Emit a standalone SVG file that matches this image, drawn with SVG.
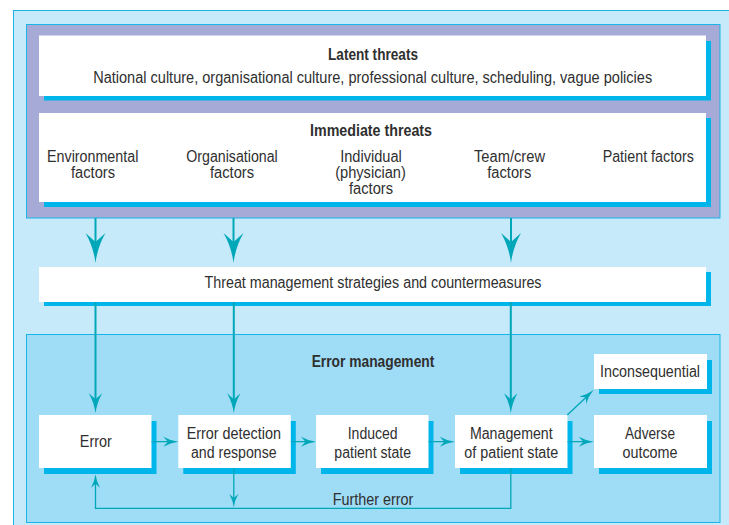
<svg xmlns="http://www.w3.org/2000/svg" width="729" height="525" viewBox="0 0 729 525">
  <defs>
    <style>
      text { font-family: "Liberation Sans", Arial, sans-serif; font-size: 16px; fill: #2f2f2f; text-anchor: middle; }
      .b { font-weight: bold; }
      .panel { stroke: #1ab4e6; stroke-width: 1; }
      .box { fill: #ffffff; }
      .shadow { fill: #00b5ea; }
      .conn { fill: none; stroke: #00a7b9; }
      .thick { stroke-width: 2; }
      .thin { stroke-width: 1.3; }
      .head { fill: #00a7b9; }
    </style>
    <!-- barbed arrowhead, tip at origin, pointing down (+y) -->
    <path id="head" d="M0,0 Q2,-16 10,-30 L0,-21 L-10,-30 Q-2,-16 0,0 Z"/>
  </defs>

  <!-- background panels -->
  <g id="frame">
    <rect x="13.5" y="10.5" width="730" height="530" fill="#c6eaf9" class="panel"/>
    <rect x="26.5" y="24.5" width="693.5" height="193.5" fill="#a5aad6" class="panel"/>
    <rect x="26.5" y="334.5" width="693.5" height="188" fill="#9fdcf6" class="panel"/>
  </g>

  <g id="latent-threats">
    <rect class="shadow" x="44" y="41" width="667" height="59.5"/>
    <rect class="box" x="39" y="35.5" width="667" height="60.5"/>
    <text class="b" x="373" y="59.5" font-size="15" textLength="90" lengthAdjust="spacingAndGlyphs">Latent threats</text>
    <text x="372.7" y="83.3" textLength="559" lengthAdjust="spacingAndGlyphs">National culture, organisational culture, professional culture, scheduling, vague policies</text>
  </g>

  <g id="immediate-threats">
    <rect class="shadow" x="44" y="118" width="667" height="89"/>
    <rect class="box" x="39" y="113" width="667" height="89"/>
    <text class="b" x="371" y="136" textLength="122" lengthAdjust="spacingAndGlyphs">Immediate threats</text>
    <text x="92.7" y="162" textLength="91.3" lengthAdjust="spacingAndGlyphs">Environmental</text>
    <text x="93" y="177.5" textLength="44" lengthAdjust="spacingAndGlyphs">factors</text>
    <text x="232" y="162" textLength="91.5" lengthAdjust="spacingAndGlyphs">Organisational</text>
    <text x="232" y="177.5" textLength="44" lengthAdjust="spacingAndGlyphs">factors</text>
    <text x="371" y="162" textLength="61.7" lengthAdjust="spacingAndGlyphs">Individual</text>
    <text x="370.5" y="178" textLength="70.7" lengthAdjust="spacingAndGlyphs">(physician)</text>
    <text x="371" y="194" textLength="44" lengthAdjust="spacingAndGlyphs">factors</text>
    <text x="509.5" y="162" textLength="71" lengthAdjust="spacingAndGlyphs">Team/crew</text>
    <text x="509.3" y="177.5" textLength="44" lengthAdjust="spacingAndGlyphs">factors</text>
    <text x="648.3" y="162" textLength="91.3" lengthAdjust="spacingAndGlyphs">Patient factors</text>
  </g>

  <g id="threat-management">
    <rect class="shadow" x="44" y="272" width="667" height="34"/>
    <rect class="box" x="39" y="267" width="667" height="35"/>
    <text x="373" y="288.3" textLength="337" lengthAdjust="spacingAndGlyphs">Threat management strategies and countermeasures</text>
  </g>

  <g id="error-management-title">
    <text class="b" x="373" y="366.7" textLength="122.7" lengthAdjust="spacingAndGlyphs">Error management</text>
  </g>

  <g id="error">
    <rect class="shadow" x="44" y="421" width="112.5" height="53"/>
    <rect class="box" x="39" y="415" width="112.5" height="53"/>
    <text x="95.8" y="447" textLength="32" lengthAdjust="spacingAndGlyphs">Error</text>
  </g>

  <g id="error-detection">
    <rect class="shadow" x="183.3" y="421" width="112.5" height="53"/>
    <rect class="box" x="178.3" y="415" width="112.5" height="53"/>
    <text x="233.8" y="439.3" textLength="94.3" lengthAdjust="spacingAndGlyphs">Error detection</text>
    <text x="233.8" y="458.3" textLength="85.7" lengthAdjust="spacingAndGlyphs">and response</text>
  </g>

  <g id="induced-state">
    <rect class="shadow" x="321" y="421" width="112.5" height="53"/>
    <rect class="box" x="316" y="415" width="112.5" height="53"/>
    <text x="372.7" y="438.5" textLength="50" lengthAdjust="spacingAndGlyphs">Induced</text>
    <text x="372.7" y="458.3" textLength="76.7" lengthAdjust="spacingAndGlyphs">patient state</text>
  </g>

  <g id="management-state">
    <rect class="shadow" x="460" y="421" width="112.5" height="53"/>
    <rect class="box" x="455" y="415" width="112.5" height="53"/>
    <text x="511.3" y="439.3" textLength="82.7" lengthAdjust="spacingAndGlyphs">Management</text>
    <text x="511.3" y="458.3" textLength="94" lengthAdjust="spacingAndGlyphs">of patient state</text>
  </g>

  <g id="inconsequential">
    <rect class="shadow" x="599" y="360" width="113" height="34"/>
    <rect class="box" x="594" y="354" width="113" height="35"/>
    <text x="650" y="377.3" textLength="100" lengthAdjust="spacingAndGlyphs">Inconsequential</text>
  </g>

  <g id="adverse-outcome">
    <rect class="shadow" x="599" y="421" width="113" height="53"/>
    <rect class="box" x="594" y="415" width="113" height="53"/>
    <text x="650" y="439" textLength="50" lengthAdjust="spacingAndGlyphs">Adverse</text>
    <text x="650" y="458" textLength="55" lengthAdjust="spacingAndGlyphs">outcome</text>
  </g>

  <g id="connectors">
    <!-- threats into countermeasures -->
    <path class="conn thick" d="M95.5,218 V248 M233.5,218 V248 M511,218 V248"/>
    <use href="#head" class="head" transform="translate(95.5,263)"/>
    <use href="#head" class="head" transform="translate(233.5,263)"/>
    <use href="#head" class="head" transform="translate(511,263)"/>

    <!-- countermeasures into error management -->
    <path class="conn thick" d="M95.5,302 V402 M233.8,302 V402 M510.8,302 V402"/>
    <use href="#head" class="head" transform="translate(95.5,413.3) scale(0.67)"/>
    <use href="#head" class="head" transform="translate(233.8,413.3) scale(0.67)"/>
    <use href="#head" class="head" transform="translate(510.8,413.3) scale(0.67)"/>

    <!-- chain of error handling -->
    <path class="conn thin" d="M151.5,441.7 H171 M290.8,441.7 H309 M428.5,441.7 H447.5 M567.5,441.7 H587"/>
    <use href="#head" class="head" transform="translate(178.3,441.7) rotate(-90) scale(0.5)"/>
    <use href="#head" class="head" transform="translate(316,441.7) rotate(-90) scale(0.5)"/>
    <use href="#head" class="head" transform="translate(454.8,441.7) rotate(-90) scale(0.5)"/>
    <use href="#head" class="head" transform="translate(593.8,441.7) rotate(-90) scale(0.5)"/>

    <!-- to inconsequential -->
    <path class="conn thin" d="M567.3,415 L588.5,395"/>
    <use href="#head" class="head" transform="translate(593.5,390) rotate(-133.5) scale(0.5)"/>

    <!-- further error loop -->
    <path class="conn thin" d="M233.8,468 V501"/>
    <use href="#head" class="head" transform="translate(233.8,507.5) scale(0.45)"/>
    <path class="conn thin" d="M510.8,468 V508.3 H95.5 V481"/>
    <use href="#head" class="head" transform="translate(95.5,474.3) rotate(180) scale(0.45)"/>
    <text x="373" y="505" textLength="80.7" lengthAdjust="spacingAndGlyphs">Further error</text>
  </g>
</svg>
